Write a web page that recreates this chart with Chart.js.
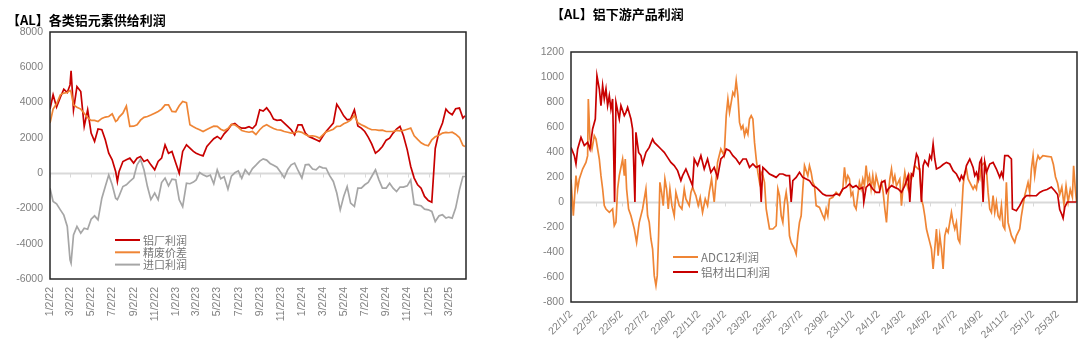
<!DOCTYPE html>
<html><head><meta charset="utf-8">
<script src="https://cdn.jsdelivr.net/npm/chart.js@4.4.1/dist/chart.umd.min.js"></script>
<style>
html,body{margin:0;padding:0;background:#fff;width:1080px;height:355px;overflow:hidden;}
.title{position:absolute;font-family:"Noto Sans CJK SC","Noto Sans",sans-serif;font-weight:bold;font-size:13px;color:#000;white-space:nowrap;line-height:16px;}
#wrapL{position:absolute;left:0;top:0;width:480px;height:355px;}
#wrapR{position:absolute;left:520px;top:0;width:560px;height:355px;}
</style></head><body>
<div id="wrapL"><canvas id="cL" width="480" height="355"></canvas></div>
<div id="wrapR"><canvas id="cR" width="560" height="355"></canvas></div>
<div class="title" style="left:7px;top:12px;">【AL】各类铝元素供给利润</div>
<div class="title" style="left:551px;top:6px;">【AL】铝下游产品利润</div>
<script>
// ---------- shared x axis: days since 2022-01-02 ----------
const baseDate = '2022-01-02';
const tickDates = ['2022-01-02','2022-03-02','2022-05-02','2022-07-02','2022-09-02','2022-11-02',
  '2023-01-02','2023-03-02','2023-05-02','2023-07-02','2023-09-02','2023-11-02',
  '2024-01-02','2024-03-02','2024-05-02','2024-07-02','2024-09-02','2024-11-02',
  '2025-01-02','2025-03-02'];
const leftTickLabels = ['1/2/22','3/2/22','5/2/22','7/2/22','9/2/22','11/2/22',
  '1/2/23','3/2/23','5/2/23','7/2/23','9/2/23','11/2/23',
  '1/2/24','3/2/24','5/2/24','7/2/24','9/2/24','11/2/24','1/2/25','3/2/25'];
const rightTickLabels = ['22/1/2','22/3/2','22/5/2','22/7/2','22/9/2','22/11/2',
  '23/1/2','23/3/2','23/5/2','23/7/2','23/9/2','23/11/2',
  '24/1/2','24/3/2','24/5/2','24/7/2','24/9/2','24/11/2','25/1/2','25/3/2'];

// ---------- left chart: 各类铝元素供给利润 ----------
const leftDay = [0,9,19,30,40,50,58,61,68,78,
 89,99,109,119,129,139,150,160,170,180,
 190,195,200,211,221,231,242,252,262,272,
 282,292,303,313,323,333,343,353,364,374,
 384,395,405,415,423,433,443,454,464,474,
 484,494,504,515,525,535,545,555,565,576,
 586,596,607,617,627,637,647,657,668,678,
 688,698,708,718,729,739,749,760,770,780,
 789,799,809,820,830,840,850,860,870,881,
 891,901,911,921,931,942,952,962,973,983,
 993,1003,1013,1023,1034,1044,1054,1064,1074,1084,
 1095,1105,1115,1126,1136,1146,1154,1164,1174,1185,
 1195,1201];
const smelterProfit = [3630,4440,3740,4300,4760,4570,5000,5800,3590,4910,
 4630,2650,3590,2270,1800,2500,2460,1890,1130,760,
 95,-470,100,660,760,850,570,850,945,660,
 760,470,190,660,850,1600,1130,1230,570,0,
 1230,1600,1420,1230,1130,1040,980,1510,1740,1950,
 2080,1930,2230,2460,2740,2820,2650,2550,2550,2630,
 2530,2740,3590,3520,3700,3440,3060,2990,3020,2840,
 2650,2460,2170,2740,2740,2270,2080,1985,1890,1800,
 2080,2360,2590,2840,3900,3600,3250,3020,3060,3590,
 2680,2550,2360,2040,1660,1130,1290,1510,1870,1985,
 2270,2490,2650,2120,1320,380,-280,-660,-850,-1320,
 -1550,-1650,1400,2360,2840,3630,3440,3310,3650,3690,
 3120,3250];
const scrapSpread = [2840,3630,3930,4440,4540,4570,4690,4600,3860,3740,
 3630,3400,3140,2990,2990,2930,3100,3180,3210,3360,
 2930,3000,3180,3400,3800,2650,2660,2740,3000,3160,
 3210,3290,3400,3500,3630,3870,3870,3500,3480,3820,
 4060,4000,2740,2630,2550,2460,2360,2480,2570,2660,
 2650,2490,2400,2530,2760,2740,2590,2420,2360,2320,
 2360,2190,2460,2650,2740,2630,2530,2460,2440,2360,
 2320,2270,2290,2360,2310,2190,2100,2120,2080,1985,
 2150,2340,2400,2490,2650,2660,2800,2890,3000,3270,
 2850,2740,2650,2550,2460,2460,2420,2440,2360,2360,
 2360,2420,2400,2420,2490,2550,2120,1910,1720,1610,
 1550,1890,2060,2150,2270,2310,2290,2320,2210,2020,
 1570,1510];
const importProfit = [-850,-1610,-1740,-2080,-2380,-3020,-4910,-5100,-3500,-3020,
 -3400,-3120,-3180,-2610,-2420,-2650,-1420,-760,-110,-660,
 -1420,-1500,-1290,-760,-660,-470,-280,470,790,190,
 -760,-1500,-1130,-1510,-530,-280,-720,-340,-380,-1510,
 -1900,-570,-600,-510,-380,40,-90,-190,-110,-600,
 190,-320,-210,-910,-170,20,130,-300,190,-80,
 260,450,680,810,740,550,450,340,40,-260,
 190,470,570,150,-280,470,490,230,190,380,
 300,280,-130,-470,-1130,-2080,-1320,-760,-1700,-1890,
 -850,-850,-660,-530,-190,190,-380,-850,-850,-570,
 -850,-1040,-790,-790,-720,-380,-1760,-1810,-1850,-2040,
 -2080,-2170,-2740,-2420,-2360,-2550,-2490,-2550,-1980,-950,
 -190,-190];
const leftSeriesNames = ['铝厂利润','精废价差','进口利润'];

// ---------- right chart: 铝下游产品利润 ----------
const adcDay = [0,5.5,11.8,15.8,19.7,27.6,35.5,39.5,41.1,45,
 49.8,55.3,59.3,63.2,67.2,71.1,75.1,79,83,90.9,
 98.8,102.7,106.7,110.6,114.6,122.5,126.5,128.8,132,136.7,
 142.3,150.2,155.7,162,169.9,177.8,181.8,185.7,189.7,193.7,
 197.6,201.6,204.7,207.9,211,215,219,222.9,226.9,230.8,
 234.8,239.5,245,249,253,256.9,263.2,268.8,272.7,280.6,
 284.6,288.5,296.4,302,306.7,312.2,318.6,324.1,328.1,333.6,
 339.9,347.8,355.7,363.6,368.4,372.4,376.3,380.3,384.2,388.2,
 392.1,396.1,400,404,408,411.9,415.8,419.8,423.7,427.7,
 431.7,435.6,439.6,443.5,447.5,451.4,455.4,459.3,463.3,467.2,
 471.2,479.1,487,491,494.9,498.9,502.8,506.8,510.7,514.7,
 518.6,522.6,526.5,530.5,534.4,538.4,542.3,546.3,550.2,554.2,
 562.1,566,570,574,577.9,581.9,589.8,597.7,601.6,605.6,
 609.5,613.5,621.4,629.3,637.2,645.1,649.1,653,657,661,
 664.9,668.8,672.8,676.7,680.7,684.6,688.6,692.6,696.5,700.5,
 704.4,708.4,712.3,716.3,720.2,724.2,728.1,732.1,737,740.9,
 744.9,748.8,752.8,756.7,760.7,764.6,768.6,772.5,776.5,780.4,
 784.4,788.3,792.3,796.2,800.2,804.2,808.1,812.1,816,823.9,
 827.9,831.8,835.8,839.7,843.7,847.6,851.6,855.5,859.5,863.4,
 867.4,871.4,875.3,879.3,883.2,887.2,891.1,895.1,899,903,
 906.9,910.9,914.8,918.8,922.7,926.7,930.7,934.6,938.6,942.5,
 946.5,954.4,958.3,962.3,966.2,970.2,974.1,982,986,990,
 993.9,997.9,1001.8,1005.8,1009.7,1013.7,1017.6,1021.6,1025.5,1029.5,
 1033.4,1037.4,1041.3,1045.3,1049.2,1053.2,1057.1,1065,1069,1076.9,
 1080.9,1084.8,1088.8,1092.7,1096.7,1100.6,1104.6,1108.5,1112.5,1120,
 1130,1140,1145,1150,1155,1160,1165,1170,1175,1180,
 1185,1190,1193,1197,1200];
const adcProfit = [180,-110,211,104,184,264,317,371,824,504,
 424,530,504,424,344,211,104,-29,-56,-83,
 -56,-190,-163,104,211,344,211,344,104,-56,
 -110,-216,-323,-163,-56,104,-110,-163,-296,-376,
 -589,-669,-589,-270,157,77,-29,184,104,-56,
 104,-29,-110,77,24,-29,-56,104,24,-29,
 77,117,51,-29,37,-83,24,-29,77,184,
 0,317,424,371,691,824,717,797,877,851,
 971,851,637,584,610,531,584,544,664,691,
 664,477,344,237,157,237,211,157,-56,-136,
 -216,-216,-190,104,51,-110,-163,0,77,-29,
 -270,-323,-350,-376,-416,-270,-163,-110,104,291,
 211,291,237,157,131,-29,-43,-110,-136,-56,
 -110,24,37,77,51,104,277,157,211,184,
 51,77,-29,-56,51,157,104,184,131,291,
 157,211,104,211,104,211,157,104,157,77,
 -56,-163,51,184,264,157,211,131,157,184,
 -29,131,237,157,104,211,184,237,291,264,
 264,24,-29,-110,-216,-270,-323,-376,-536,-376,
 -216,-429,-270,-376,-536,-270,-216,-243,-163,-83,
 -163,-216,-163,-296,-323,-110,131,237,264,184,
 157,104,131,104,211,184,291,317,264,77,
 -56,-83,51,-83,0,-110,-136,-29,-190,-216,
 157,-163,-216,-270,-296,-323,-270,-216,-110,51,
 104,157,77,264,371,211,317,371,344,370,
 365,360,300,200,150,60,120,-20,130,0,
 100,40,290,100,0];
const exportDay = [0,7.9,11.8,15.8,23.7,31.6,39.5,45,51.3,57.7,
 61.6,67.2,71.1,75.1,79,83,86.9,90.9,94.8,98.8,
 103.5,106.7,114.6,118.5,126.5,130.4,134.4,142.3,146.2,151.7,
 154.1,160.5,166,170,177.9,185.7,193.7,197.6,205.5,213.4,
 221.3,229.2,237.1,245,253,260.8,264.8,272.7,280.6,288.5,
 292.5,300.4,308.3,316.2,324.1,332,339.9,347.8,355.7,363.6,
 368.4,376.3,384.2,392.1,400,408,415.8,423.7,431.7,439.6,
 447.5,451.4,455.4,463.3,471.2,479.1,487,494.9,502.8,510.7,
 518.6,522.6,526.5,534.4,542.3,550.2,558.2,566,574,581.9,
 589.8,597.7,605.6,613.5,621.4,629.3,637.2,645.1,653,661,
 668.8,676.7,684.6,692.6,695,700.5,708.4,716.3,724.2,732.1,
 737,744.9,748.8,752.8,760.7,768.6,776.5,784.4,792.3,796.2,
 800.2,804.2,808.1,812.1,816,820,823.9,827.9,831.8,835.8,
 839.7,847.6,851.6,855.5,859.5,863.4,867.4,875.3,883.2,891.1,
 899,906.9,914.8,922.7,926.7,930.7,934.6,938.6,946.5,954.4,
 958.3,962.3,966.2,970.2,974.1,978.1,982,986,993.9,1001.8,
 1009.7,1017.6,1021.6,1025.5,1029.5,1037.4,1045.3,1047.7,1057.1,1065,
 1073,1080.9,1088.8,1096.7,1104.6,1112.5,1120,1130,1140,1148,
 1155,1160,1165,1168,1172,1178,1190,1200];
const exportProfit = [437,371,304,424,517,451,477,424,584,664,
 1010,904,771,931,824,904,771,851,744,824,
 0,797,664,771,691,717,757,664,584,0,
 557,397,371,304,397,437,504,477,451,424,
 397,357,317,291,251,171,211,264,197,131,
 344,291,371,264,344,237,277,197,344,371,
 424,411,371,344,304,344,344,277,304,277,
 291,0,277,251,224,211,197,224,224,211,
 211,0,171,197,237,197,184,171,131,117,
 91,64,51,51,51,64,56,104,117,144,
 117,131,104,117,0,117,144,104,77,77,
 157,171,77,104,131,117,104,77,131,171,
 211,0,224,211,304,384,357,237,0,291,
 331,291,371,344,464,344,264,277,300,317,
 304,251,224,171,211,184,224,291,344,277,
 211,237,184,317,344,0,317,237,304,317,
 264,197,237,197,371,371,344,-56,-70,-29,
 24,51,51,50,51,77,90,100,120,90,
 60,-60,-100,-130,-40,0,0,0];
const rightSeriesNames = ['ADC12利润','铝材出口利润'];

// ---------- colours / styles ----------
const RED = '#C80000', ORANGE = '#EF8535', GREY = '#A6A6A6';
const TICK_COLOR = '#7F7F7F';
const NUM_FONT = '"Liberation Sans", Arial, sans-serif';
const CJK_FONT = '"Noto Sans CJK SC", "Noto Sans", sans-serif';

function dayOffset(s) {
  const [y, m, d] = s.split('-').map(Number);
  const [by, bm, bd] = baseDate.split('-').map(Number);
  return Math.round((Date.UTC(y, m - 1, d) - Date.UTC(by, bm - 1, bd)) / 86400000);
}
const tickDay = tickDates.map(dayOffset);
const pts = (xs, ys) => xs.map((x, i) => ({x: x, y: ys[i]}));

const framePlugin = {
  id: 'frame',
  beforeDatasetsDraw(chart) {
    const {ctx, chartArea: a, scales: {x, y}} = chart;
    const y0 = Math.round(y.getPixelForValue(0)) + 0.5;
    ctx.save();
    ctx.strokeStyle = '#D9D9D9';
    ctx.lineWidth = 2;
    ctx.beginPath(); ctx.moveTo(a.left, y0); ctx.lineTo(a.right, y0); ctx.stroke();
    ctx.lineWidth = 1;
    x.ticks.forEach(t => {
      const px = Math.round(x.getPixelForValue(t.value)) + 0.5;
      ctx.beginPath(); ctx.moveTo(px, y0); ctx.lineTo(px, y0 + 4); ctx.stroke();
    });
    ctx.restore();
  },
  afterDatasetsDraw(chart) {
    const {ctx, chartArea: a} = chart;
    ctx.save();
    ctx.strokeStyle = '#262626';
    ctx.lineWidth = 1.5;
    ctx.strokeRect(a.left, a.top, a.right - a.left, a.bottom - a.top);
    ctx.restore();
  }
};

const innerLegend = {
  id: 'innerLegend',
  afterDraw(chart, args, o) {
    const ctx = chart.ctx;
    ctx.save();
    ctx.font = o.font;
    ctx.textBaseline = 'middle';
    ctx.textAlign = 'left';
    o.order.forEach((di, row) => {
      const ds = chart.data.datasets[di];
      const y = o.y + row * o.gap;
      ctx.strokeStyle = ds.borderColor;
      ctx.lineWidth = 2;
      ctx.beginPath(); ctx.moveTo(o.x, y); ctx.lineTo(o.x + o.len, y); ctx.stroke();
      ctx.fillStyle = o.color;
      ctx.fillText(ds.label, o.x + o.len + 3, y + 0.5);
    });
    ctx.restore();
  }
};

function makeChart(id, cfg) {
  return new Chart(document.getElementById(id), {
    type: 'line',
    data: {datasets: cfg.datasets},
    plugins: [framePlugin, innerLegend],
    options: {
      responsive: false, animation: false, events: [],
      layout: {padding: cfg.padding},
      elements: {point: {radius: 0}, line: {tension: 0, borderWidth: 1.7}},
      plugins: {legend: {display: false}, tooltip: {enabled: false}, title: {display: false},
        innerLegend: cfg.legend},
      scales: {
        x: {
          type: 'linear', min: 0, max: cfg.xMax,
          afterBuildTicks: s => { s.ticks = tickDay.map(v => ({value: v})); },
          afterFit: s => { s.height = cfg.xHeight; },
          grid: {display: false, drawTicks: false},
          border: {display: false},
          ticks: {autoSkip: false, minRotation: cfg.rot, maxRotation: cfg.rot, padding: cfg.xPad,
            color: TICK_COLOR, font: {family: NUM_FONT, size: 10.5},
            callback: (v, i) => cfg.labels[i]}
        },
        y: {
          min: cfg.yMin, max: cfg.yMax,
          ticks: {stepSize: cfg.yStep, padding: 7, color: TICK_COLOR,
            font: {family: NUM_FONT, size: 10.5},
            callback: v => String(v)},
          afterFit: s => { s.width = cfg.yWidth; },
          grid: {display: false, drawTicks: false},
          border: {display: false}
        }
      }
    }
  });
}

makeChart('cL', {
  datasets: [
    {label: leftSeriesNames[0], data: pts(leftDay, smelterProfit), borderColor: RED, order: 3},
    {label: leftSeriesNames[1], data: pts(leftDay, scrapSpread), borderColor: ORANGE, order: 2},
    {label: leftSeriesNames[2], data: pts(leftDay, importProfit), borderColor: GREY, order: 1}
  ],
  padding: {top: 32, right: 14, left: 0, bottom: 0},
  xMax: 1204, xHeight: 76, rot: 90, xPad: 8, labels: leftTickLabels,
  yMin: -6000, yMax: 8000, yStep: 2000, yWidth: 50,
  legend: {x: 115, y: 240, gap: 12.3, len: 25, order: [0, 1, 2],
    font: '11px ' + CJK_FONT, color: '#767676'}
});

makeChart('cR', {
  datasets: [
    {label: rightSeriesNames[0], data: pts(adcDay, adcProfit), borderColor: ORANGE, order: 2},
    {label: rightSeriesNames[1], data: pts(exportDay, exportProfit), borderColor: RED, order: 1}
  ],
  padding: {top: 52, right: 3, left: 0, bottom: 0},
  xMax: 1201, xHeight: 53, rot: 45, xPad: 6, labels: rightTickLabels,
  yMin: -800, yMax: 1200, yStep: 200, yWidth: 51,
  legend: {x: 153, y: 257, gap: 15, len: 25, order: [0, 1],
    font: '11.5px ' + CJK_FONT, color: '#767676'}
});
</script>
</body></html>
